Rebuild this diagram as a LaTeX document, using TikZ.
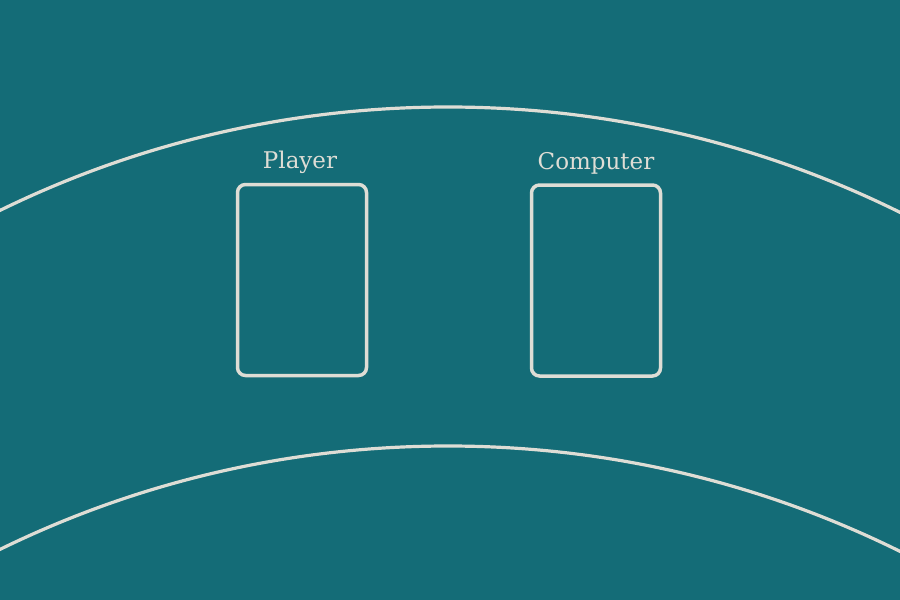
\documentclass[tikz,border=0pt]{standalone}
\usepackage{fontspec}
\setmainfont{DejaVu Serif}
\definecolor{felt}{HTML}{146C77}
\definecolor{chalk}{HTML}{DEDDD5}
\begin{document}
\begin{tikzpicture}[x=1pt,y=-1pt,
  cardbox/.style={draw=chalk,line width=3.5pt,rounded corners=8pt,minimum width=129pt,minimum height=191pt,inner sep=0pt},
  label/.style={text=chalk,font=\fontsize{23}{26}\selectfont,anchor=base,inner sep=0pt},
  arcline/.style={draw=chalk,line width=3.2pt}]
\useasboundingbox (0,0) rectangle (900,600);
\fill[felt] (0,0) rectangle (900,600);
\begin{scope}
\clip (0,0) rectangle (900,600);
\draw[arcline] (448,1127) circle[radius=1020];
\draw[arcline] (448,1466) circle[radius=1020];
\end{scope}
\node[cardbox] (player) at (302,280) {};
\node[cardbox] (computer) at (596,280.5) {};
\node[label] (playerlabel) at (300,168) {Player};
\node[label] (computerlabel) at (596,169) {Computer};
\end{tikzpicture}
\end{document}
